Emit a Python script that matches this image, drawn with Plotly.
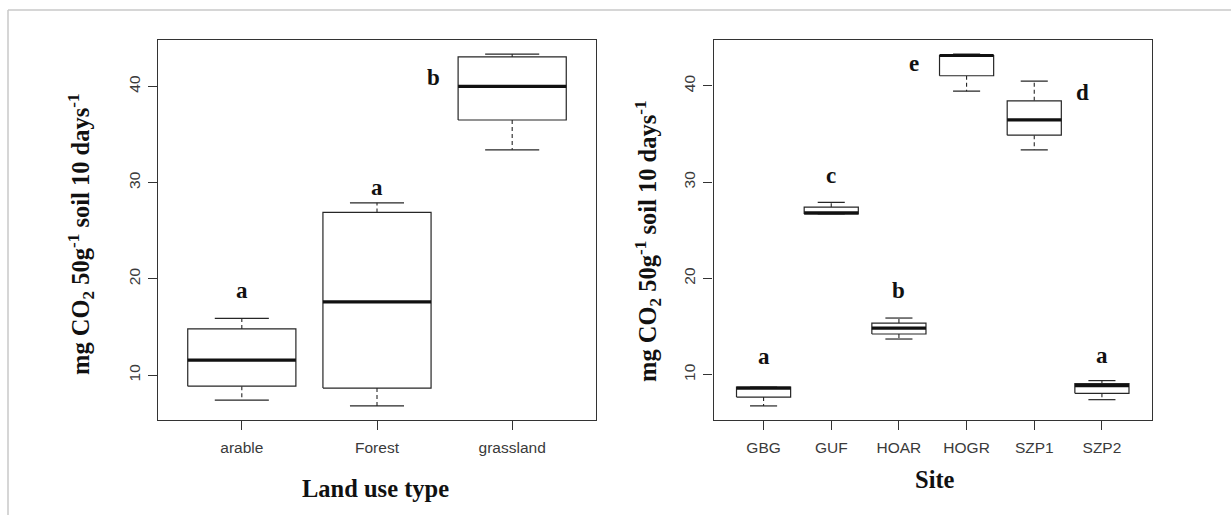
import plotly.graph_objects as go

# ---------------- data ----------------
land_use = ["arable", "Forest", "grassland"]
lu_lower = [7.4, 6.8, 33.4]
lu_q1 = [8.85, 8.65, 36.5]
lu_median = [11.55, 17.6, 40.0]
lu_q3 = [14.8, 26.9, 43.05]
lu_upper = [15.9, 27.9, 43.35]
lu_letters = ["a", "a", "b"]
lu_letter_x = [1.0, 2.0, 2.42]
lu_letter_y = [18.8, 29.5, 40.9]

sites = ["GBG", "GUF", "HOAR", "HOGR", "SZP1", "SZP2"]
st_lower = [6.75, 26.7, 13.7, 39.45, 33.35, 7.4]
st_q1 = [7.67, 26.7, 14.22, 41.05, 34.88, 8.06]
st_median = [8.6, 26.8, 14.84, 43.15, 36.47, 8.86]
st_q3 = [8.7, 27.4, 15.36, 43.15, 38.44, 9.07]
st_upper = [8.7, 27.9, 15.88, 43.3, 40.5, 9.38]
st_letters = ["a", "c", "b", "e", "d", "a"]
st_letter_x = [1.0, 2.0, 3.0, 3.22, 5.71, 6.0]
st_letter_y = [11.9, 30.7, 18.75, 42.3, 39.3, 12.0]

y_ticks = [10, 20, 30, 40]

W, H = 1231, 515
LINE = "#262626"
BOXW = 0.4  # half width of box (R boxwex 0.8)


def box_traces(lower, q1, med, q3, upper, xa, ya):
    bx, by, mx, my, wx, wy, cx, cy = [], [], [], [], [], [], [], []
    for i in range(len(med)):
        p = i + 1
        bx += [p - BOXW, p + BOXW, p + BOXW, p - BOXW, p - BOXW, None]
        by += [q1[i], q1[i], q3[i], q3[i], q1[i], None]
        mx += [p - BOXW, p + BOXW, None]
        my += [med[i], med[i], None]
        if upper[i] > q3[i]:
            wx += [p, p, None]
            wy += [q3[i], upper[i], None]
        if lower[i] < q1[i]:
            wx += [p, p, None]
            wy += [q1[i], lower[i], None]
        cx += [p - BOXW / 2, p + BOXW / 2, None, p - BOXW / 2, p + BOXW / 2, None]
        cy += [upper[i], upper[i], None, lower[i], lower[i], None]
    common = dict(mode="lines", hoverinfo="skip", showlegend=False, xaxis=xa, yaxis=ya)
    return [
        go.Scatter(x=wx, y=wy, line=dict(color=LINE, width=1.1, dash="4px,3px"), **common),
        go.Scatter(x=cx, y=cy, line=dict(color=LINE, width=1.2), **common),
        go.Scatter(x=bx, y=by, fill="toself", fillcolor="white", line=dict(color=LINE, width=1.2), **common),
        go.Scatter(x=mx, y=my, line=dict(color="#111111", width=3.2), **common),
    ]


fig = go.Figure()
for t in box_traces(lu_lower, lu_q1, lu_median, lu_q3, lu_upper, "x", "y"):
    fig.add_trace(t)
for t in box_traces(st_lower, st_q1, st_median, st_q3, st_upper, "x2", "y2"):
    fig.add_trace(t)

ytop, ybot = 40, 420
dom_y = [1 - ybot / H, 1 - ytop / H]


def rrange(lo, hi):
    ext = (hi - lo) * 0.04
    return [lo - ext, hi + ext]


all_lu = lu_lower + lu_upper
all_st = st_lower + st_upper
tickfont = dict(family="Liberation Sans, Arial, sans-serif", size=15.5, color="#3a3a3a")

axis_common = dict(showgrid=False, zeroline=False, showline=True, mirror=True,
                   linecolor="#333333", linewidth=1.2, ticks="outside", ticklen=9,
                   tickcolor="#333333", tickwidth=1.2, tickfont=tickfont)

fig.update_layout(
    width=W, height=H,
    margin=dict(l=0, r=0, t=0, b=0),
    paper_bgcolor="white", plot_bgcolor="white",
    xaxis=dict(domain=[158 / W, 596 / W], range=[0.38, len(land_use) + 0.62],
               tickvals=list(range(1, len(land_use) + 1)), ticktext=land_use,
               ticklabelstandoff=4, anchor="y", **axis_common),
    yaxis=dict(domain=dom_y, range=rrange(min(all_lu), max(all_lu)),
               tickvals=y_ticks, tickangle=-90, ticklabelstandoff=2, anchor="x", **axis_common),
    xaxis2=dict(domain=[713.5 / W, 1152 / W], range=[0.26, len(sites) + 0.74],
                tickvals=list(range(1, len(sites) + 1)), ticktext=sites,
                ticklabelstandoff=4, anchor="y2", **axis_common),
    yaxis2=dict(domain=dom_y, range=rrange(min(all_st), max(all_st)),
                tickvals=y_ticks, tickangle=-90, ticklabelstandoff=2, anchor="x2", **axis_common),
)

serif = dict(family="Liberation Serif, Times New Roman, serif", size=23, color="#111111")
serif_t = dict(family="Liberation Serif, Times New Roman, serif", size=24.5, color="#111111")
ann = []
for lx, ly, lt in zip(lu_letter_x, lu_letter_y, lu_letters):
    ann.append(dict(x=lx, y=ly, xref="x", yref="y", text="<b>%s</b>" % lt, showarrow=False, font=serif))
for lx, ly, lt in zip(st_letter_x, st_letter_y, st_letters):
    ann.append(dict(x=lx, y=ly, xref="x2", yref="y2", text="<b>%s</b>" % lt, showarrow=False, font=serif))

ytitle = "<b>mg CO<sub>2</sub> 50g<sup>-1</sup> soil 10 days<sup>-1</sup></b>"
cm = dict(xref="paper", yref="paper", showarrow=False, xanchor="center", yanchor="middle")
ann += [
    dict(x=81 / W, y=1 - 234 / H, text=ytitle, textangle=-90, font=serif_t, **cm),
    dict(x=648 / W, y=1 - 241 / H, text=ytitle, textangle=-90, font=serif_t, **cm),
    dict(x=375 / W, y=1 - 488 / H, text="<b>Land use type</b>", font=serif_t, **cm),
    dict(x=935 / W, y=1 - 479 / H, text="<b>Site</b>", font=serif_t, **cm),
]
fig.update_layout(annotations=ann)

fig.update_layout(shapes=[
    dict(type="line", xref="paper", yref="paper", x0=8 / W, x1=1, y0=1 - 10 / H, y1=1 - 10 / H,
         line=dict(color="#c8c8c8", width=1.5)),
    dict(type="line", xref="paper", yref="paper", x0=8 / W, x1=8 / W, y0=0, y1=1 - 10 / H,
         line=dict(color="#c8c8c8", width=1.5)),
])

fig.write_html("out.html")
